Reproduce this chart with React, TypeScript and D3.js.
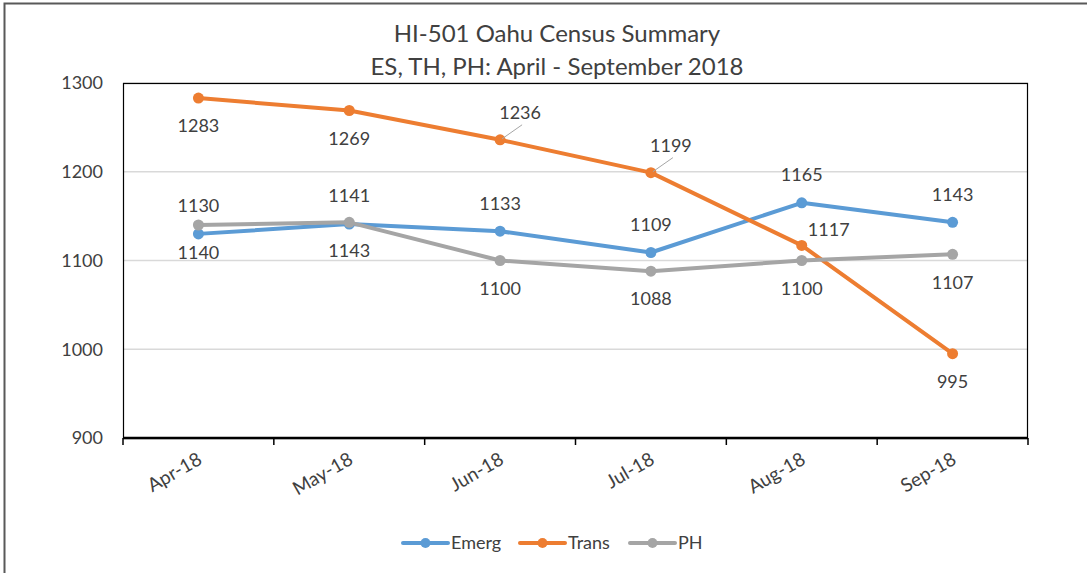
import React from 'react';
import * as d3 from 'd3';

// chart data
const months = ['Apr-18', 'May-18', 'Jun-18', 'Jul-18', 'Aug-18', 'Sep-18'];
const emerg = [1130, 1141, 1133, 1109, 1165, 1143];
const trans = [1283, 1269, 1236, 1199, 1117, 995];
const ph = [1140, 1143, 1100, 1088, 1100, 1107];
const yTicks = [900, 1000, 1100, 1200, 1300];
const titleLines = ['HI-501 Oahu Census Summary', 'ES, TH, PH: April - September 2018'];

const W = 1087;
const H = 573;
const margin = { top: 83, right: 59, bottom: 135, left: 123 };
const FONT = 'Lato, "Open Sans", sans-serif';
const TEXT = '#404040';

// where each data label goes: 'above' | 'below' | 'lead' (above w/ leader line) | 'right'
const series = [
  { name: 'Emerg', color: '#5b9bd5', values: emerg, labels: ['above', 'above', 'above', 'above', 'above', 'above'] },
  { name: 'Trans', color: '#ed7d31', values: trans, labels: ['below', 'below', 'lead', 'lead', 'right', 'below'] },
  { name: 'PH', color: '#a5a5a5', values: ph, labels: ['below', 'below', 'below', 'below', 'below', 'below'] },
];

const App = () => {
  const innerW = W - margin.left - margin.right;
  const innerH = H - margin.top - margin.bottom;

  const x = d3.scaleBand().domain(months).range([0, innerW]);
  const y = d3.scaleLinear().domain([900, 1300]).range([innerH, 0]);
  const cx = (m: string) => (x(m) as number) + x.bandwidth() / 2;

  const line = d3
    .line<number>()
    .x((d, i) => cx(months[i]))
    .y(d => y(d));

  const legendItems = [
    { s: series[0], x: 403 },
    { s: series[1], x: 520 },
    { s: series[2], x: 630 },
  ];

  return (
    <svg width={W} height={H} style={{ position: 'absolute', left: 0, top: 0 }} fontFamily={FONT}>
      <rect x={0} y={0} width={W} height={H} fill="#fff" />
      {/* outer chart border */}
      <path d={`M4.5,${H} V3.5 H${W}`} fill="none" stroke="#595959" strokeWidth={2} />

      {titleLines.map((t, i) => (
        <text key={t} x={557} y={42 + i * 33} textAnchor="middle" fontSize={24} fill={TEXT}>
          {t}
        </text>
      ))}

      <g transform={`translate(${margin.left},${margin.top})`}>
        {/* gridlines */}
        {yTicks.map(t => (
          <line key={t} x1={0} x2={innerW} y1={y(t)} y2={y(t)} stroke="#d9d9d9" strokeWidth={1.5} />
        ))}
        {/* plot border */}
        <rect x={0.5} y={0.5} width={innerW - 1} height={innerH} fill="none" stroke="#000" strokeWidth={1.2} />
        <line x1={0} x2={innerW} y1={innerH} y2={innerH} stroke="#000" strokeWidth={2.5} />

        {/* y labels */}
        {yTicks.map(t => (
          <text key={t} x={-20} y={y(t)} dy="0.35em" textAnchor="end" fontSize={18} fill={TEXT}>
            {t}
          </text>
        ))}

        {/* x ticks + labels */}
        {d3.range(months.length + 1).map(i => (
          <line key={i} x1={x.step() * i} x2={x.step() * i} y1={innerH} y2={innerH + 7} stroke="#000" strokeWidth={1.5} />
        ))}
        {months.map(m => (
          <text
            key={m}
            transform={`translate(${cx(m) + 5},${innerH + 25}) rotate(-30)`}
            textAnchor="end"
            fontSize={19}
            fill={TEXT}
          >
            {m}
          </text>
        ))}

        {/* lines */}
        {series.map(s => (
          <g key={s.name}>
            <path d={line(s.values) || ''} fill="none" stroke={s.color} strokeWidth={4} strokeLinejoin="round" strokeLinecap="round" />
            {s.values.map((v, i) => (
              <circle key={i} cx={cx(months[i])} cy={y(v)} r={5.5} fill={s.color} />
            ))}
          </g>
        ))}

        {/* data labels */}
        {series.map(s =>
          s.values.map((v, i) => {
            const px = cx(months[i]);
            const py = y(v);
            const pos = s.labels[i];
            let lx = px;
            let ly = py;
            let leader: JSX.Element | null = null;
            if (pos === 'above') ly = py - 28;
            else if (pos === 'below') ly = py + 28;
            else if (pos === 'right') {
              lx = px + 27;
              ly = py - 16;
            } else if (pos === 'lead') {
              lx = px + 20;
              ly = py - 27;
              leader = <line x1={px + 2} y1={py - 1} x2={lx + 2} y2={ly + 12} stroke="#a6a6a6" strokeWidth={1} />;
            }
            return (
              <g key={s.name + i}>
                {leader}
                <text x={lx} y={ly} dy="0.35em" textAnchor="middle" fontSize={18} fill={TEXT}>
                  {v}
                </text>
              </g>
            );
          })
        )}
      </g>

      {/* legend */}
      {legendItems.map(({ s, x: lx }) => (
        <g key={s.name} transform={`translate(${lx},543)`}>
          <line x1={0} x2={45} y1={0} y2={0} stroke={s.color} strokeWidth={4} strokeLinecap="round" />
          <circle cx={22.5} cy={0} r={5} fill={s.color} />
          <text x={48} y={0} dy="0.35em" fontSize={18} fill={TEXT}>
            {s.name}
          </text>
        </g>
      ))}
    </svg>
  );
};

export default App;
